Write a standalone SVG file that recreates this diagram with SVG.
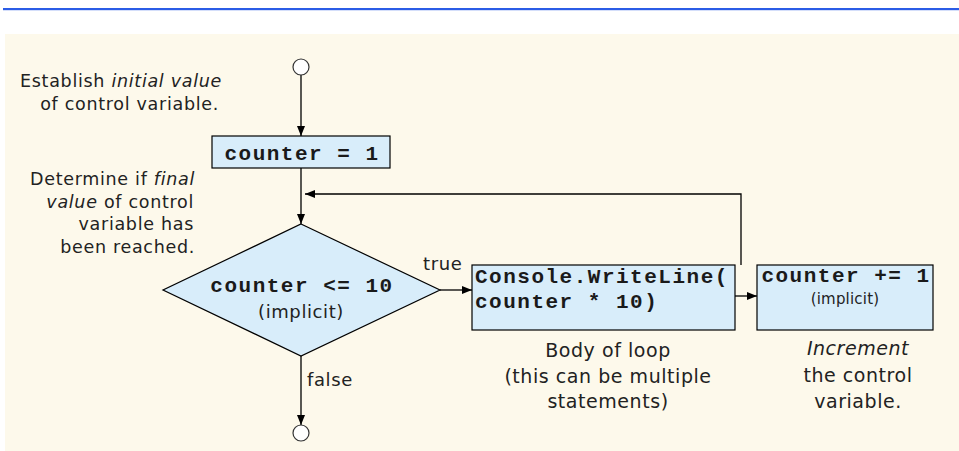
<svg xmlns="http://www.w3.org/2000/svg" width="959" height="451" viewBox="0 0 959 451">
<defs>
<marker id="ah" viewBox="0 0 10 8" refX="10" refY="4" markerWidth="10" markerHeight="8" markerUnits="userSpaceOnUse" orient="auto">
<path d="M0,0 L10,4 L0,8 Z" fill="#000"/>
</marker>
<style>
.box{fill:#d8edfa;stroke:#000;stroke-width:1.2}
.term{fill:#fff;stroke:#333;stroke-width:1.2}
.code{font-family:"Liberation Mono","Courier New",monospace;font-weight:bold;font-size:21px;letter-spacing:1.5px;fill:#1a1a1a}
.lbl{font-family:"DejaVu Sans","Liberation Sans",sans-serif;font-size:17.5px;letter-spacing:0.7px;fill:#222}
.big{font-size:19px;letter-spacing:0.55px}
.mid{font-size:18px;letter-spacing:0.6px}
.sm{font-size:15px;letter-spacing:0.2px}
.it{font-style:italic}
.edge{fill:none;stroke:#000;stroke-width:1.3}
</style>
</defs>
<rect x="0" y="0" width="959" height="451" fill="#fff"/>
<rect x="5" y="34" width="954" height="417" fill="#fdf9eb"/>
<rect x="3" y="8" width="956" height="2.2" fill="#2b5ce6"/>

<g id="connectors">
<path class="edge" d="M301,75 V136" marker-end="url(#ah)"/>
<path class="edge" d="M301,168 V224" marker-end="url(#ah)"/>
<path class="edge" d="M741,265 V194 H305" marker-end="url(#ah)"/>
<path class="edge" d="M440,290 H472" marker-end="url(#ah)"/>
<path class="edge" d="M735,296 H757" marker-end="url(#ah)"/>
<path class="edge" d="M301,356 V425" marker-end="url(#ah)"/>
<text class="lbl mid" x="423" y="270">true</text>
<text class="lbl mid" x="307" y="386">false</text>
</g>

<g id="start"><circle class="term" cx="301" cy="67" r="8"/></g>
<g id="end"><circle class="term" cx="301" cy="433" r="8"/></g>

<g id="init">
<rect class="box" x="212" y="136" width="178" height="32"/>
<text class="code" x="302" y="160" text-anchor="middle">counter = 1</text>
</g>

<g id="cond">
<polygon class="box" points="301,224 440,290 301,356 163,290"/>
<text class="code" x="302" y="292" text-anchor="middle">counter &lt;= 10</text>
<text class="lbl mid" x="301" y="318" text-anchor="middle">(implicit)</text>
</g>

<g id="body">
<rect class="box" x="472" y="265" width="263" height="65"/>
<text class="code" x="475" y="283">Console.WriteLine(</text>
<text class="code" x="475" y="308">counter * 10)</text>
</g>

<g id="incr">
<rect class="box" x="757" y="265" width="176" height="65"/>
<text class="code" x="846" y="282" text-anchor="middle">counter += 1</text>
<text class="lbl sm" x="845" y="304" text-anchor="middle">(implicit)</text>
</g>

<g id="note-init" class="lbl" text-anchor="end">
<text x="222" y="87">Establish <tspan class="it">initial value</tspan></text>
<text x="219" y="110">of control variable.</text>
</g>

<g id="note-final" class="lbl" text-anchor="end">
<text x="195" y="185">Determine if <tspan class="it">final</tspan></text>
<text x="194" y="208"><tspan class="it">value</tspan> of control</text>
<text x="194" y="230">variable has</text>
<text x="195" y="253">been reached.</text>
</g>

<g id="note-body" class="lbl big" text-anchor="middle">
<text x="608" y="357">Body of loop</text>
<text x="608" y="383">(this can be multiple</text>
<text x="608" y="408">statements)</text>
</g>

<g id="note-incr" class="lbl big" text-anchor="middle">
<text x="858" y="355" class="it">Increment</text>
<text x="858" y="382">the control</text>
<text x="858" y="408">variable.</text>
</g>
</svg>
